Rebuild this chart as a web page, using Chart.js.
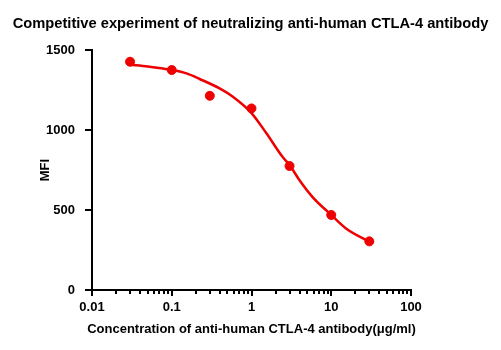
<!DOCTYPE html>
<html>
<head>
<meta charset="utf-8">
<script src="https://cdn.jsdelivr.net/npm/chart.js@4.4.0/dist/chart.umd.min.js"></script>
<style>
  html, body { margin: 0; padding: 0; background: #fff; }
  #wrap { width: 501px; height: 350px; }
</style>
</head>
<body>
<div id="wrap"><canvas id="Chart1" width="501" height="350"></canvas></div>
<script>
// measured points
var conc = [0.03, 0.1, 0.3, 1, 3, 10, 30];
var mfi = [1427, 1375, 1214, 1135, 775, 469, 304];

// fitted curve
var fitConc = [0.03, 0.05, 0.1, 0.153, 0.224, 0.398, 0.584, 1, 1.53, 2.46, 3, 3.98, 5.84, 10, 15.3, 30];
var fitMfi = [1408, 1397, 1375, 1354, 1319, 1260, 1208, 1106, 981, 831, 781, 688, 581, 469, 385, 302];

// axis ticks
var xDecades = [0.01, 0.1, 1, 10, 100];
var xMinorSteps = [2, 3, 4, 5, 6, 7, 8, 9];
var yTicks = [0, 500, 1000, 1500];

var xTitle = 'Concentration of anti-human CTLA-4 antibody(μg/ml)';

var red = '#ee0000';
var font = "'Liberation Sans', Arial, sans-serif";

function toPoints(xs, ys) {
	return xs.map(function (x, i) { return { x: x, y: ys[i] }; });
}

var xTickValues = [];
xDecades.forEach(function (d, i) {
	xTickValues.push(d);
	if (i < xDecades.length - 1) {
		xMinorSteps.forEach(function (m) { xTickValues.push(+(d * m).toPrecision(3)); });
	}
});

function isDecade(v) {
	var l = Math.log10(v);
	return Math.abs(l - Math.round(l)) < 1e-6;
}

// tick marks (long at decades, short in between) + x axis title without width clamp
var tickMarks = {
	id: 'tickMarks',
	afterDraw: function (chart) {
		var ctx = chart.ctx;
		var xs = chart.scales.x, ys = chart.scales.y;
		ctx.save();
		ctx.strokeStyle = '#000';
		ctx.lineWidth = 2;
		ctx.beginPath();
		xs.ticks.forEach(function (t) {
			var px = Math.round(xs.getPixelForValue(t.value));
			var len = isDecade(t.value) ? 6 : 4;
			ctx.moveTo(px, xs.top);
			ctx.lineTo(px, xs.top + len);
		});
		ys.ticks.forEach(function (t) {
			var py = Math.round(ys.getPixelForValue(t.value));
			ctx.moveTo(ys.right, py);
			ctx.lineTo(ys.right - 7, py);
		});
		ctx.stroke();

		ctx.fillStyle = '#000';
		ctx.font = 'bold 13px ' + font;
		ctx.textAlign = 'center';
		ctx.textBaseline = 'middle';
		ctx.fillText(xTitle, (xs.left + xs.right) / 2, xs.bottom - 21);
		ctx.restore();
	}
};

Chart.defaults.color = '#000';
Chart.defaults.font.family = font;

var context = document.getElementById("Chart1").getContext("2d");

var myChart = new Chart(context, {
	type: 'scatter',
	data: {
		datasets: [{
			// fitted curve
			data: toPoints(fitConc, fitMfi),
			showLine: true,
			borderColor: red,
			borderWidth: 2.5,
			pointRadius: 0,
			cubicInterpolationMode: 'monotone',
			order: 2
		}, {
			// measured
			data: toPoints(conc, mfi),
			showLine: false,
			backgroundColor: red,
			borderColor: red,
			pointRadius: 4.5,
			order: 1
		}]
	},
	options: {
		responsive: false,
		animation: false,
		devicePixelRatio: 1,
		layout: { padding: 0 },
		plugins: {
			legend: { display: false },
			tooltip: { enabled: false },
			title: {
				display: true,
				text: 'Competitive experiment of neutralizing anti-human CTLA-4 antibody',
				font: { size: 14.7, weight: 'bold', family: font },
				padding: { top: 15.5, bottom: 16.9 }
			}
		},
		scales: {
			x: {
				type: 'logarithmic',
				min: 0.01,
				max: 100,
				afterBuildTicks: function (scale) {
					scale.ticks = xTickValues.map(function (v) { return { value: v }; });
				},
				afterFit: function (scale) { scale.height = 60; },
				grid: { display: false },
				border: { display: true, color: '#000', width: 2 },
				ticks: {
					autoSkip: false,
					maxRotation: 0,
					padding: 2,
					font: { size: 13, weight: 'bold' },
					callback: function (v) { return isDecade(v) ? String(v) : ''; }
				}
			},
			y: {
				min: 0,
				max: 1500,
				afterBuildTicks: function (scale) {
					scale.ticks = yTicks.map(function (v) { return { value: v }; });
				},
				afterFit: function (scale) { scale.width = 92; },
				grid: { display: false },
				border: { display: true, color: '#000', width: 2 },
				ticks: {
					padding: 9,
					font: { size: 13, weight: 'bold' },
					callback: function (v) { return String(v); }
				},
				title: {
					display: true,
					text: 'MFI',
					font: { size: 13, weight: 'bold' },
					padding: { top: 37.2, bottom: 37.2 }
				}
			},
			// empty right margin
			yRight: {
				position: 'right',
				display: true,
				afterFit: function (scale) { scale.width = 90; },
				grid: { display: false },
				border: { display: false },
				ticks: { display: false }
			}
		}
	},
	plugins: [tickMarks]
});
</script>
</body>
</html>
